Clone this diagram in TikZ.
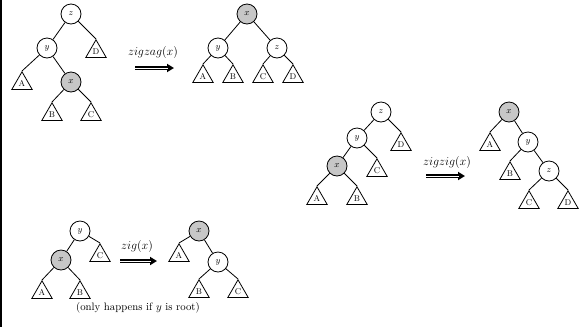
\documentclass[tikz,border=0pt]{standalone}
\usetikzlibrary{shapes.geometric,arrows.meta}
\begin{document}
\begin{tikzpicture}[x=1bp,y=-1bp,
  circ/.style={circle,draw,line width=0.8bp,minimum size=20bp,inner sep=0pt,font=\fontsize{9}{10}\selectfont},
  gcirc/.style={circ,fill=black!22},
  tri/.style={regular polygon,regular polygon sides=3,draw,line width=0.8bp,minimum size=23.6bp,inner sep=0pt,anchor=corner 1,font=\fontsize{8.5}{9}\selectfont},
  edge/.style={line width=0.8bp},
  arrouter/.style={line width=3.3bp,-{Triangle[length=7bp,width=8bp]}},
  arrinner/.style={line width=1.0bp,white,shorten >=6.5bp,shorten <=-1bp},
  lab/.style={font=\fontsize{11.5}{13}\selectfont}
]
\useasboundingbox (0,0) rectangle (586,327);
\draw[line width=2.4bp] (1.2,0) -- (1.2,327);

% zigzag left
\node[circ] (z1) at (71,14) {$z$};
\node[circ] (y1) at (47,48) {$y$};
\node[gcirc] (x1) at (71,82) {$x$};
\node[tri] (D1) at (96,39) {D};
\node[tri] (A1) at (22,71) {A};
\node[tri] (B1) at (52,102) {B};
\node[tri] (C1) at (91,102) {C};
\draw[edge] (z1) -- (y1);
\draw[edge] (z1) -- (D1.corner 1);
\draw[edge] (y1) -- (A1.corner 1);
\draw[edge] (y1) -- (x1);
\draw[edge] (x1) -- (B1.corner 1);
\draw[edge] (x1) -- (C1.corner 1);
\node[lab] (l1) at (153,53) {$zigzag(x)$};
\coordinate (a1s) at (135,68);
\coordinate (a1e) at (174,68);
\draw[arrouter] (a1s) -- (a1e);
\draw[arrinner] (a1s) -- (a1e);

% zigzag right
\node[gcirc] (x2) at (247,14) {$x$};
\node[circ] (y2) at (218,48) {$y$};
\node[circ] (z2) at (277,48) {$z$};
\node[tri] (A2) at (203,64) {A};
\node[tri] (B2) at (233,64) {B};
\node[tri] (C2) at (263,64) {C};
\node[tri] (D2) at (293,64) {D};
\draw[edge] (x2) -- (y2);
\draw[edge] (x2) -- (z2);
\draw[edge] (y2) -- (A2.corner 1);
\draw[edge] (y2) -- (B2.corner 1);
\draw[edge] (z2) -- (C2.corner 1);
\draw[edge] (z2) -- (D2.corner 1);

% zigzig left
\node[circ] (z3) at (381,112) {$z$};
\node[circ] (y3) at (357,138) {$y$};
\node[gcirc] (x3) at (337,166) {$x$};
\node[tri] (D3) at (401,132) {D};
\node[tri] (C3) at (377,158) {C};
\node[tri] (A3) at (317,186) {A};
\node[tri] (B3) at (357,186) {B};
\draw[edge] (z3) -- (y3);
\draw[edge] (z3) -- (D3.corner 1);
\draw[edge] (y3) -- (x3);
\draw[edge] (y3) -- (C3.corner 1);
\draw[edge] (x3) -- (A3.corner 1);
\draw[edge] (x3) -- (B3.corner 1);
\node[lab] (l2) at (447,163) {$zigzig(x)$};
\coordinate (a2s) at (426,176);
\coordinate (a2e) at (465,176);
\draw[arrouter] (a2s) -- (a2e);
\draw[arrinner] (a2s) -- (a2e);

% zigzig right
\node[gcirc] (x4) at (509,112) {$x$};
\node[circ] (y4) at (528,142) {$y$};
\node[circ] (z4) at (549,171) {$z$};
\node[tri] (A4) at (490,132) {A};
\node[tri] (B4) at (510,161) {B};
\node[tri] (C4) at (529,190) {C};
\node[tri] (D4) at (568,190) {D};
\draw[edge] (x4) -- (A4.corner 1);
\draw[edge] (x4) -- (y4);
\draw[edge] (y4) -- (B4.corner 1);
\draw[edge] (y4) -- (z4);
\draw[edge] (z4) -- (C4.corner 1);
\draw[edge] (z4) -- (D4.corner 1);

% zig left
\node[circ] (y5) at (80,231) {$y$};
\node[gcirc] (x5) at (61,260) {$x$};
\node[tri] (C5) at (100,243) {C};
\node[tri] (A5) at (42,280) {A};
\node[tri] (B5) at (80,280) {B};
\draw[edge] (y5) -- (x5);
\draw[edge] (y5) -- (C5.corner 1);
\draw[edge] (x5) -- (A5.corner 1);
\draw[edge] (x5) -- (B5.corner 1);
\node[lab] (l3) at (137,247) {$zig(x)$};
\coordinate (a3s) at (120,261);
\coordinate (a3e) at (157,261);
\draw[arrouter] (a3s) -- (a3e);
\draw[arrinner] (a3s) -- (a3e);

% zig right
\node[gcirc] (x6) at (199,231) {$x$};
\node[circ] (y6) at (218,262) {$y$};
\node[tri] (A6) at (179,243) {A};
\node[tri] (B6) at (199,279) {B};
\node[tri] (C6) at (238,279) {C};
\draw[edge] (x6) -- (A6.corner 1);
\draw[edge] (x6) -- (y6);
\draw[edge] (y6) -- (B6.corner 1);
\draw[edge] (y6) -- (C6.corner 1);

\node[font=\fontsize{10.8}{13}\selectfont] (cap) at (138,308) {(only happens if $y$ is root)};
\end{tikzpicture}
\end{document}
